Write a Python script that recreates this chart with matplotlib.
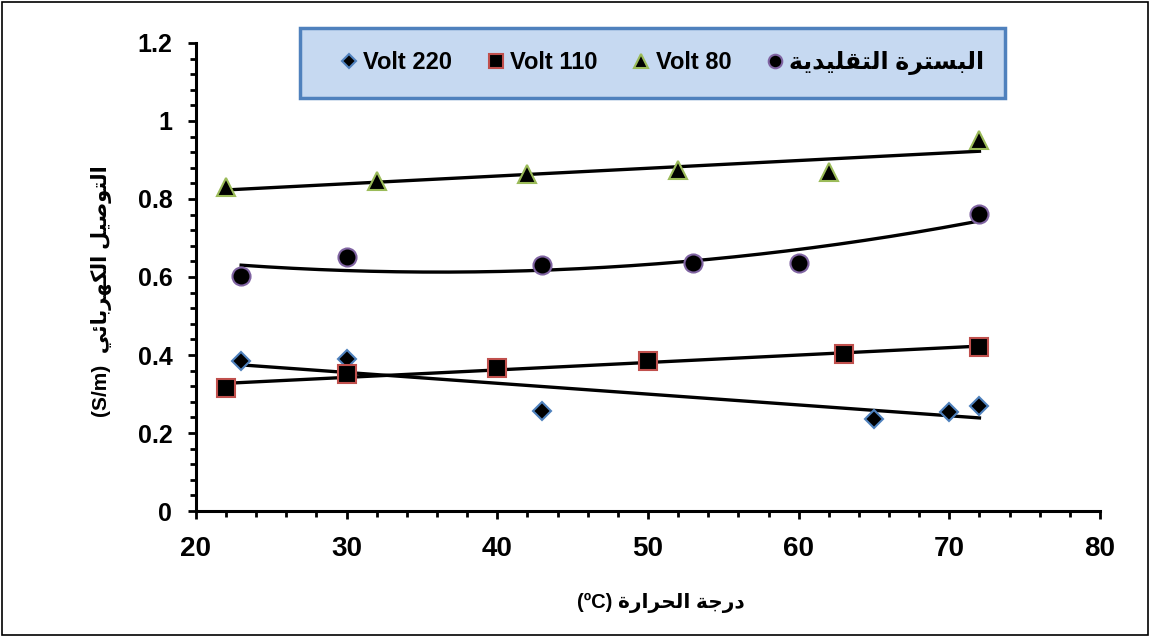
import numpy as np
import matplotlib
matplotlib.use("Agg")
import matplotlib.pyplot as plt
from matplotlib.patches import Rectangle
from matplotlib.ticker import MultipleLocator, FuncFormatter

# ---------------- data ----------------
x_220 = [23, 30, 43, 65, 70, 72]
y_220 = [0.385, 0.390, 0.256, 0.236, 0.254, 0.269]

x_110 = [22, 30, 40, 50, 63, 72]
y_110 = [0.315, 0.352, 0.367, 0.385, 0.402, 0.420]

x_80 = [22, 32, 42, 52, 62, 72]
y_80 = [0.830, 0.845, 0.865, 0.875, 0.870, 0.952]

x_trad = [23, 30, 43, 53, 60, 72]
y_trad = [0.603, 0.651, 0.631, 0.636, 0.637, 0.762]

x_ticks = [20, 30, 40, 50, 60, 70, 80]
y_ticks = [0, 0.2, 0.4, 0.6, 0.8, 1.0, 1.2]

# ---------------- simple Arabic shaping ----------------
FORMS = {
    '\u0627': ('\uFE8D', '\uFE8E', None, None),      # alef
    '\u0628': ('\uFE8F', '\uFE90', '\uFE91', '\uFE92'),  # beh
    '\u0629': ('\uFE93', '\uFE94', None, None),      # teh marbuta
    '\u062A': ('\uFE95', '\uFE96', '\uFE97', '\uFE98'),  # teh
    '\u062C': ('\uFE9D', '\uFE9E', '\uFE9F', '\uFEA0'),  # jeem
    '\u062D': ('\uFEA1', '\uFEA2', '\uFEA3', '\uFEA4'),  # hah
    '\u062F': ('\uFEA9', '\uFEAA', None, None),      # dal
    '\u0631': ('\uFEAD', '\uFEAE', None, None),      # reh
    '\u0633': ('\uFEB1', '\uFEB2', '\uFEB3', '\uFEB4'),  # seen
    '\u0635': ('\uFEB9', '\uFEBA', '\uFEBB', '\uFEBC'),  # sad
    '\u0642': ('\uFED5', '\uFED6', '\uFED7', '\uFED8'),  # qaf
    '\u0643': ('\uFED9', '\uFEDA', '\uFEDB', '\uFEDC'),  # kaf
    '\u0644': ('\uFEDD', '\uFEDE', '\uFEDF', '\uFEE0'),  # lam
    '\u0647': ('\uFEE9', '\uFEEA', '\uFEEB', '\uFEEC'),  # heh
    '\u0648': ('\uFEED', '\uFEEE', None, None),      # waw
    '\u064A': ('\uFEF1', '\uFEF2', '\uFEF3', '\uFEF4'),  # yeh
    '\u0626': ('\uFE89', '\uFE8A', '\uFE8B', '\uFE8C'),  # yeh hamza
}


def shape(text):
    out = []
    n = len(text)
    for i, c in enumerate(text):
        if c not in FORMS:
            out.append(c)
            continue
        iso, fin, ini, med = FORMS[c]
        prev = text[i - 1] if i > 0 else None
        nxt = text[i + 1] if i < n - 1 else None
        jp = prev in FORMS and FORMS[prev][2] is not None
        jn = ini is not None and nxt in FORMS
        if jp and jn:
            out.append(med)
        elif jp:
            out.append(fin)
        elif jn:
            out.append(ini)
        else:
            out.append(iso)
    return ''.join(out)


def ar(text):
    return shape(text)[::-1]


labels = ["Volt 220", "Volt 110", "Volt 80", ar("البسترة التقليدية")]
xlabel = "(\u00baC) " + ar("درجة الحرارة")
ylabel = "(S/m)  " + ar("التوصيل الكهربائي")

FAM = ['Liberation Sans', 'DejaVu Sans']
plt.rcParams['font.family'] = FAM
plt.rcParams['font.weight'] = 'bold'

# ---------------- figure ----------------
fig = plt.figure(figsize=(11.5, 6.37), dpi=100)
ax = fig.add_axes([0.1704, 0.1978, 0.7861, 0.7347])

ms_kw = dict(linestyle='none', markerfacecolor='black', markeredgewidth=1.5)
h1, = ax.plot(x_220, y_220, marker='D', markersize=9.5, markeredgecolor='#4F81BD', label=labels[0], **ms_kw)
h2, = ax.plot(x_110, y_110, marker='s', markersize=13, markeredgecolor='#C0504D', label=labels[1], **ms_kw)
h3, = ax.plot(x_80, y_80, marker='^', markersize=13, markeredgecolor='#9BBB59', label=labels[2], **ms_kw)
h4, = ax.plot(x_trad, y_trad, marker='o', markersize=13, markeredgecolor='#8064A2', label=labels[3], **ms_kw)

# trend lines
def trend(xs, ys, deg):
    p = np.polyfit(xs, ys, deg)
    xx = np.linspace(min(xs), max(xs), 200)
    ax.plot(xx, np.polyval(p, xx), color='black', lw=2.4, zorder=1)

trend(x_220, y_220, 1)
trend(x_110, y_110, 1)
trend(x_80, y_80, 1)
trend(x_trad, y_trad, 2)

ax.set_xlim(20, 80)
ax.set_ylim(0, 1.2)
ax.set_xticks(x_ticks)
ax.set_yticks(y_ticks)
ax.xaxis.set_minor_locator(MultipleLocator(2))
ax.yaxis.set_minor_locator(MultipleLocator(0.04))
ax.yaxis.set_major_formatter(FuncFormatter(lambda v, p: '%g' % round(v, 2)))

for s in ['top', 'right']:
    ax.spines[s].set_visible(False)
for s in ['left', 'bottom']:
    ax.spines[s].set_linewidth(2.2)

ax.tick_params(axis='both', which='major', direction='out', length=6, width=2)
ax.tick_params(axis='both', which='minor', direction='out', length=4, width=2)
ax.tick_params(axis='x', which='major', pad=12, labelsize=20)
ax.tick_params(axis='y', which='major', pad=11, labelsize=18)

ax.set_xlabel(xlabel, fontweight='bold', fontsize=14.5)
ax.xaxis.set_label_coords((661 - 196) / 904, -(603 - 511) / 468, transform=ax.transAxes)
ax.xaxis.label.set_va('center')
ax.set_ylabel(ylabel, fontweight='bold', fontsize=15)
ax.yaxis.set_label_coords(-(196 - 102) / 904, (511 - 291) / 468, transform=ax.transAxes)
ax.yaxis.label.set_va('center')

# legend box
box = Rectangle((300 / 1150, 1 - 98 / 637), 705 / 1150, 70 / 637, transform=fig.transFigure,
                facecolor='#C6D9F1', edgecolor='#4F81BD', linewidth=2.5, zorder=5)
fig.patches.append(box)

leg = fig.legend(handles=[h1, h2, h3, h4], labels=labels, ncol=4, loc='center',
                 bbox_to_anchor=(662 / 1150, 1 - 63 / 637), frameon=False,
                 prop=dict(weight='bold', size=17),
                 handletextpad=0.2, handlelength=0.8, columnspacing=1.45, markerscale=0.75)
leg.set_zorder(6)

# outer border
fig.patches.append(Rectangle((0.0015, 0.0025), 0.997, 0.995, transform=fig.transFigure,
                             fill=False, edgecolor='black', linewidth=1.2))

fig.savefig('out.png', dpi=100)
